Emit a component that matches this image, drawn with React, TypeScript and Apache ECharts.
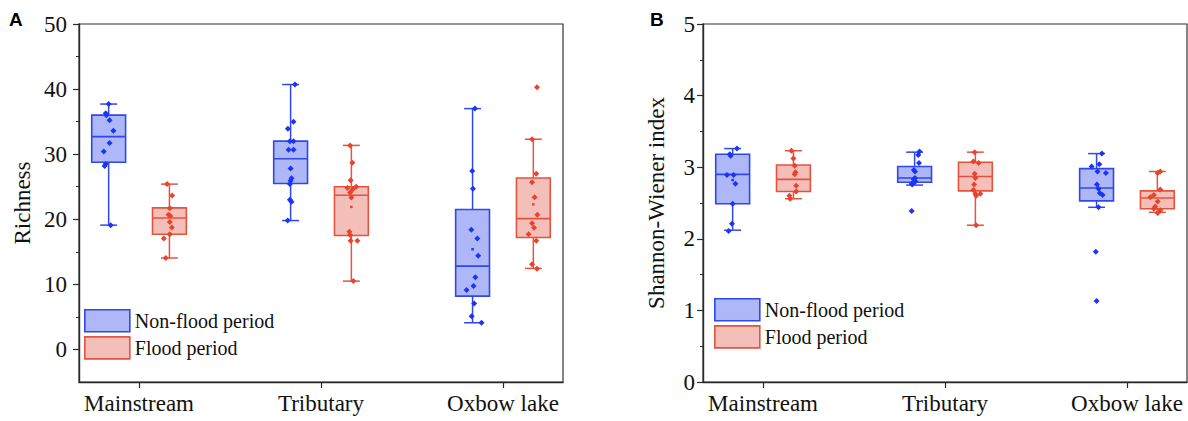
import React, { useEffect, useRef } from "react";
import * as echarts from "echarts";

// ---------- data ----------
const CATEGORIES = ["Mainstream", "Tributary", "Oxbow lake"];
const PERIODS = ["Non-flood period", "Flood period"];
const PERIOD_OFFSET = [-0.167, 0.167];

const RICH_TICKS = [0, 10, 20, 30, 40, 50];
const RICH_MINOR = [5, 15, 25, 35, 45];
const SW_TICKS = [0, 1, 2, 3, 4, 5];
const SW_MINOR = [0.5, 1.5, 2.5, 3.5, 4.5];

// box stats per category: [whisker low, Q1, median, Q3, whisker high]
const RICH_NONFLOOD_BOX = [
  [19.1, 28.75, 32.7, 36.0, 37.7],
  [19.8, 25.5, 29.3, 32.0, 40.7],
  [4.1, 8.2, 12.8, 21.5, 37.0],
];
const RICH_FLOOD_BOX = [
  [14.05, 17.7, 20.2, 21.75, 25.4],
  [10.5, 17.5, 23.7, 25.0, 31.35],
  [12.45, 17.2, 20.1, 26.35, 32.3],
];
const SW_NONFLOOD_BOX = [
  [2.12, 2.49, 2.9, 3.18, 3.26],
  [2.75, 2.79, 2.85, 3.01, 3.21],
  [2.44, 2.53, 2.71, 2.98, 3.19],
];
const SW_FLOOD_BOX = [
  [2.56, 2.66, 2.83, 3.03, 3.23],
  [2.19, 2.67, 2.87, 3.07, 3.21],
  [2.37, 2.42, 2.57, 2.67, 2.94],
];

// individual samples per category
const RICH_NONFLOOD_PTS = [
  [37.7, 36.3, 36.0, 35.2, 33.6, 31.7, 30.4, 28.5, 28.2, 19.1],
  [40.7, 35.0, 33.9, 32.0, 32.0, 30.7, 30.7, 27.8, 26.3, 25.9, 25.4, 23.0, 22.7, 19.8],
  [37.0, 27.4, 24.7, 18.4, 17.05, 14.4, 11.1, 9.75, 9.15, 7.05, 5.1, 4.1],
];
const RICH_NONFLOOD_JIT = [
  [0, -0.016, -0.013, 0.005, 0.026, 0.005, -0.027, -0.016, -0.022, 0.011],
  [0.024, 0.016, -0.015, -0.004, 0.016, -0.011, 0.016, 0, 0.005, 0, -0.004, -0.004, 0.005, -0.016],
  [0.013, -0.002, 0.002, -0.007, 0.026, 0.031, 0.015, 0.005, -0.033, 0.009, -0.005, 0.049],
];
const RICH_FLOOD_PTS = [
  [25.4, 23.65, 21.7, 20.7, 20.5, 19.6, 18.75, 17.7, 17.05, 14.05],
  [31.35, 28.7, 26.0, 24.8, 25.0, 24.6, 24.1, 23.35, 18.1, 17.6, 16.7, 16.7, 10.5],
  [40.3, 32.3, 27.0, 25.7, 23.4, 20.7, 19.4, 18.7, 17.7, 16.7, 13.1, 12.4],
];
const RICH_FLOOD_JIT = [
  [-0.013, 0.015, 0.002, -0.005, 0.005, 0.002, 0.013, 0.002, -0.031, -0.02],
  [-0.007, 0.005, -0.004, -0.022, 0.026, 0.007, -0.007, 0, -0.011, -0.007, -0.004, 0.033, 0.011],
  [0.02, -0.007, 0.016, -0.007, 0.007, 0.022, -0.007, 0.004, -0.026, 0.016, -0.007, 0.02],
];
const SW_NONFLOOD_PTS = [
  [3.26, 3.18, 3.16, 2.89, 2.89, 2.77, 2.49, 2.21, 2.11],
  [3.22, 3.17, 3.06, 2.96, 2.94, 2.85, 2.83, 2.8, 2.77, 2.76, 2.39],
  [3.19, 3.04, 3.01, 2.94, 2.92, 2.76, 2.7, 2.64, 2.61, 2.44, 1.82, 1.13],
];
const SW_NONFLOOD_JIT = [
  [0.024, -0.016, -0.011, -0.031, 0.005, 0.015, 0, -0.004, -0.022],
  [0.027, 0.02, 0.024, -0.004, 0.002, 0.002, -0.005, 0.005, -0.016, -0.013, -0.016],
  [0.029, 0.015, -0.027, 0.005, 0.051, 0.002, 0.011, 0.018, 0.033, 0.011, -0.004, 0],
];
const SW_FLOOD_PTS = [
  [3.23, 3.12, 3.02, 2.93, 2.9, 2.74, 2.66, 2.6, 2.56],
  [3.21, 3.08, 3.06, 2.91, 2.85, 2.76, 2.68, 2.63, 2.63, 2.6, 2.19],
  [2.94, 2.92, 2.69, 2.61, 2.58, 2.52, 2.45, 2.42, 2.4, 2.36],
];
const SW_FLOOD_JIT = [
  [-0.011, 0, 0.007, 0.011, 0.007, 0.015, 0.015, -0.022, -0.018],
  [-0.004, -0.011, 0.018, -0.004, 0, -0.007, -0.011, 0, 0.027, 0.004, 0.004],
  [0.016, 0.002, 0.016, -0.019, -0.039, 0.002, -0.012, -0.019, 0.016, 0.002],
];

// visible mean markers (null = hidden)
const RICH_NONFLOOD_MEAN = [null, null, 15.4];
const RICH_FLOOD_MEAN = [null, 21.9, 22.3];
const SW_NONFLOOD_MEAN = [2.82, null, null];
const SW_FLOOD_MEAN = [null, null, null];

// ---------- styles ----------
const SERIF = "'Liberation Serif', 'Times New Roman', serif";
const SANS = "'Liberation Sans', Arial, sans-serif";
const BLUE_STROKE = "#3047ee";
const BLUE_FILL = "#aeb7f8";
const BLUE_PT = "#1d34f7";
const RED_STROKE = "#e4533e";
const RED_FILL = "#f5bfb9";
const RED_PT = "#e8432d";
const TEXT = "#111";
const AXIS = "#2a2a2a";
const BOX_WIDTH = 0.186;

function boxData(stats: number[][], period: number) {
  return stats.map((s, i) => [i + 1 + PERIOD_OFFSET[period], ...s]);
}
function pointData(pts: number[][], jit: number[][], period: number) {
  const out: number[][] = [];
  pts.forEach((arr, i) => arr.forEach((y, k) => out.push([i + 1 + PERIOD_OFFSET[period] + jit[i][k], y])));
  return out;
}
function meanData(means: (number | null)[], period: number) {
  const out: number[][] = [];
  means.forEach((m, i) => { if (m !== null) out.push([i + 1 + PERIOD_OFFSET[period], m]); });
  return out;
}

function boxSeries(name: string, data: number[][], idx: number, stroke: string, fill: string) {
  return {
    type: "custom",
    name,
    xAxisIndex: idx,
    yAxisIndex: idx * 2,
    data,
    encode: { x: 0, y: [1, 2, 3, 4, 5] },
    z: 2,
    renderItem: (params: any, api: any) => {
      const x = api.value(0);
      const lo = api.coord([x, api.value(1)]);
      const q1 = api.coord([x, api.value(2)]);
      const med = api.coord([x, api.value(3)]);
      const q3 = api.coord([x, api.value(4)]);
      const hi = api.coord([x, api.value(5)]);
      const w = api.size([BOX_WIDTH, 0])[0];
      const cx = lo[0];
      const ls = { stroke, lineWidth: 1.5 };
      return {
        type: "group",
        children: [
          { type: "line", shape: { x1: cx, y1: lo[1], x2: cx, y2: q1[1] }, style: ls },
          { type: "line", shape: { x1: cx, y1: q3[1], x2: cx, y2: hi[1] }, style: ls },
          { type: "line", shape: { x1: cx - w / 4, y1: lo[1], x2: cx + w / 4, y2: lo[1] }, style: ls },
          { type: "line", shape: { x1: cx - w / 4, y1: hi[1], x2: cx + w / 4, y2: hi[1] }, style: ls },
          {
            type: "rect",
            shape: { x: cx - w / 2, y: q3[1], width: w, height: q1[1] - q3[1] },
            style: { fill, stroke, lineWidth: 1.6 },
          },
          { type: "line", shape: { x1: cx - w / 2, y1: med[1], x2: cx + w / 2, y2: med[1] }, style: { stroke, lineWidth: 1.6 } },
        ],
      };
    },
  };
}

function scatterSeries(name: string, data: number[][], idx: number, color: string, size = 6, symbol = "diamond") {
  return {
    type: "scatter",
    name,
    xAxisIndex: idx,
    yAxisIndex: idx * 2,
    data,
    symbol,
    symbolSize: size,
    itemStyle: { color, opacity: 1 },
    z: 3,
  };
}

function xAxisFor(idx: number) {
  return {
    type: "value",
    gridIndex: idx,
    min: 0.67,
    max: 3.33,
    axisLine: { show: true, onZero: false, lineStyle: { color: AXIS, width: 1.4 } },
    axisTick: { show: true, customValues: [1, 2, 3], length: 6, lineStyle: { color: AXIS, width: 1.2 } },
    axisLabel: {
      customValues: [1, 2, 3],
      formatter: (v: number) => CATEGORIES[Math.round(v) - 1],
      fontSize: 23,
      fontFamily: SERIF,
      color: TEXT,
      margin: 10,
    },
    splitLine: { show: false },
  };
}

function yAxesFor(idx: number, min: number, max: number, ticks: number[], minor: number[], name: string, gap: number, margin: number) {
  return [
    {
      type: "value",
      gridIndex: idx,
      position: "left",
      min,
      max,
      name,
      nameLocation: "middle",
      nameGap: gap,
      nameTextStyle: { fontSize: 23, fontFamily: SERIF, color: TEXT },
      axisLine: { show: true, onZero: false, lineStyle: { color: AXIS, width: 1.4 } },
      axisTick: { show: true, customValues: ticks, length: 6, lineStyle: { color: AXIS, width: 1.2 } },
      axisLabel: { customValues: ticks, fontSize: 23, fontFamily: SERIF, color: TEXT, margin },
      splitLine: { show: false },
    },
    {
      type: "value",
      gridIndex: idx,
      position: "left",
      min,
      max,
      axisLine: { show: false, onZero: false },
      axisTick: { show: true, customValues: minor, length: 3, lineStyle: { color: AXIS, width: 1 } },
      axisLabel: { show: false },
      splitLine: { show: false },
    },
  ];
}

function legendFor(left: number, top: number) {
  return {
    left,
    top,
    orient: "vertical",
    padding: 0,
    itemWidth: 45,
    itemHeight: 22,
    itemGap: 3.5,
    selectedMode: false,
    textStyle: { fontSize: 20, fontFamily: SERIF, color: TEXT },
    data: [
      { name: PERIODS[0], icon: "rect", itemStyle: { color: BLUE_FILL, borderColor: BLUE_STROKE, borderWidth: 1.6 } },
      { name: PERIODS[1], icon: "rect", itemStyle: { color: RED_FILL, borderColor: RED_STROKE, borderWidth: 1.6 } },
    ],
  };
}

export default function App() {
  const ref = useRef<HTMLDivElement>(null);
  useEffect(() => {
    document.body.style.margin = "0";
    if (!ref.current) return;
    const chart = echarts.init(ref.current, undefined, { renderer: "svg" });
    const gridBase = { top: 24, width: 484, height: 358, show: true, borderColor: "#333", borderWidth: 1.2, containLabel: false };
    const option: any = {
      animation: false,
      backgroundColor: "#fff",
      grid: [
        { ...gridBase, left: 79 },
        { ...gridBase, left: 703 },
      ],
      xAxis: [xAxisFor(0), xAxisFor(1)],
      yAxis: [
        ...yAxesFor(0, -5, 50, RICH_TICKS, RICH_MINOR, "Richness", 45, 12),
        ...yAxesFor(1, 0, 5, SW_TICKS, SW_MINOR, "Shannon-Wiener index", 35, 8),
      ],
      legend: [legendFor(84, 309), legendFor(714, 298)],
      graphic: [
        { type: "text", left: 9, top: 10, style: { text: "A", fontSize: 19, fontWeight: "bold", fontFamily: SANS, fill: "#000" } },
        { type: "text", left: 650, top: 10, style: { text: "B", fontSize: 19, fontWeight: "bold", fontFamily: SANS, fill: "#000" } },
      ],
      series: [
        boxSeries(PERIODS[0], boxData(RICH_NONFLOOD_BOX, 0), 0, BLUE_STROKE, BLUE_FILL),
        boxSeries(PERIODS[1], boxData(RICH_FLOOD_BOX, 1), 0, RED_STROKE, RED_FILL),
        scatterSeries("rich-nf-pts", pointData(RICH_NONFLOOD_PTS, RICH_NONFLOOD_JIT, 0), 0, BLUE_PT),
        scatterSeries("rich-f-pts", pointData(RICH_FLOOD_PTS, RICH_FLOOD_JIT, 1), 0, RED_PT),
        scatterSeries("rich-nf-mean", meanData(RICH_NONFLOOD_MEAN, 0), 0, BLUE_PT, 2.5, "rect"),
        scatterSeries("rich-f-mean", meanData(RICH_FLOOD_MEAN, 1), 0, RED_PT, 2.5, "rect"),
        boxSeries(PERIODS[0], boxData(SW_NONFLOOD_BOX, 0), 1, BLUE_STROKE, BLUE_FILL),
        boxSeries(PERIODS[1], boxData(SW_FLOOD_BOX, 1), 1, RED_STROKE, RED_FILL),
        scatterSeries("sw-nf-pts", pointData(SW_NONFLOOD_PTS, SW_NONFLOOD_JIT, 0), 1, BLUE_PT),
        scatterSeries("sw-f-pts", pointData(SW_FLOOD_PTS, SW_FLOOD_JIT, 1), 1, RED_PT),
        scatterSeries("sw-nf-mean", meanData(SW_NONFLOOD_MEAN, 0), 1, BLUE_PT, 2.5, "rect"),
        scatterSeries("sw-f-mean", meanData(SW_FLOOD_MEAN, 1), 1, RED_PT, 2.5, "rect"),
      ],
    };
    chart.setOption(option);
    return () => chart.dispose();
  }, []);
  return <div ref={ref} style={{ width: 1188, height: 421 }} />;
}
